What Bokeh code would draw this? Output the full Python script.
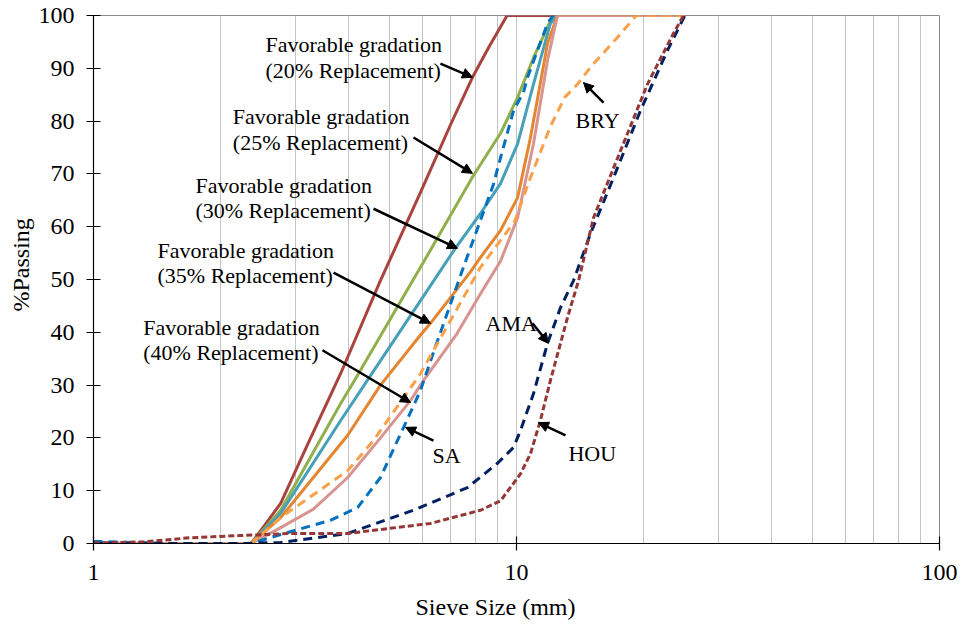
import math
from bokeh.plotting import figure
from bokeh.models import Range1d, FixedTicker, Arrow, NormalHead, Title
from bokeh.embed import file_html
from bokeh.resources import INLINE
from bokeh.core.properties import value

# ---------------- data (sieve size mm, % passing) ----------------
fav20_x = [2.36, 2.77, 3.2, 3.84, 4.75, 5.93, 7.0, 7.87, 8.6, 9.5, 12.5, 19, 25]
fav20_y = [0, 7.6, 18.6, 32.2, 49.5, 66.5, 79.5, 88.3, 94, 100, 100, 100, 100]

fav25_x = [2.36, 2.77, 3.84, 4.12, 5.93, 7.91, 9.17, 10.06, 10.97, 12.03, 12.5, 19, 25]
fav25_y = [0, 6.3, 26.5, 30.6, 52.3, 69.7, 77.7, 84.5, 92, 99, 100, 100, 100]

fav30_x = [2.36, 2.77, 3.84, 4.44, 5.93, 7.18, 8.22, 9.17, 10.06, 10.97, 12.03, 12.5, 19, 25]
fav30_y = [0, 5.7, 23.3, 30.9, 46, 56, 62.5, 68.2, 75.7, 87, 98.5, 100, 100, 100]

fav35_x = [2.36, 2.77, 3.99, 4.77, 5.93, 6.26, 7.79, 8.22, 9.17, 10.06, 10.79, 11.84, 12.5, 19, 25]
fav35_y = [0, 4.9, 20.5, 30, 39.5, 41.7, 51.5, 54.2, 59.3, 65.5, 76.9, 94.7, 100, 100, 100]

fav40_x = [1, 1.42, 2.36, 2.77, 3.31, 3.99, 4.77, 5.62, 6.03, 7.2, 8.22, 9.17, 10.06, 10.97, 11.84, 12.5, 19, 25]
fav40_y = [0.2, 0, 0, 3.0, 6.5, 12.5, 20, 27.1, 30.9, 39.5, 47.3, 53.5, 61.7, 75.7, 91.5, 100, 100, 100]

sa_x = [1, 1.55, 2.36, 2.77, 3.63, 4.21, 4.77, 5.23, 5.41, 5.93, 6.35, 7.49, 8.82, 9.02, 9.84, 10.39, 10.62, 11.84, 12.2]
sa_y = [0.4, 0, 0, 1.7, 4.4, 6.8, 12.5, 19.5, 22, 29, 36, 52.3, 68, 71, 82, 85.5, 88.3, 98.5, 100]

bry_x = [2.36, 2.77, 3.99, 4.59, 5.71, 5.93, 8.22, 9.9, 10.79, 12.03, 13.0, 13.94, 14.96, 17.3, 19.2, 25]
bry_y = [0, 4.9, 13.8, 19.5, 30.3, 32.2, 52.3, 61, 69.3, 79, 84.5, 87, 90.2, 95.8, 100, 100]

ama_x = [1, 2.23, 2.77, 3.99, 5.71, 7.66, 9.02, 9.84, 10.22, 10.97, 11.84, 12.71, 13.64, 14.96, 16.96, 19.64, 22.75, 25]
ama_y = [0, 0, 0.2, 1.9, 6.3, 10.6, 15.2, 18.2, 21.4, 28.4, 37.9, 44.7, 49.8, 58.7, 69.3, 82, 93.4, 100]

hou_x = [1, 1.31, 1.70, 2.23, 2.92, 3.99, 6.26, 8.22, 9.17, 9.84, 10.22, 10.79, 11.39, 12.03, 13.2, 14.02, 15.21, 17.62, 20.4, 23.5, 24.82]
hou_y = [0.1, 0.3, 1.1, 1.5, 1.9, 1.9, 3.8, 6.3, 8.1, 11.4, 13.2, 17, 23.3, 30.9, 42.8, 49.8, 61.7, 74.4, 87, 96.6, 100]

x_ticks = [1, 10, 100]
y_ticks = [0, 10, 20, 30, 40, 50, 60, 70, 80, 90, 100]
grid_ticks = [2, 3, 4, 5, 6, 7, 8, 9, 10, 20, 30, 40, 50, 60, 70, 80, 90, 100]

FONT = "Liberation Serif"

p = figure(width=963, height=628, x_axis_type="log",
           x_range=Range1d(1, 100), y_range=Range1d(0, 100),
           output_backend="svg", toolbar_location=None,
           min_border_left=93, min_border_right=24,
           min_border_top=15, min_border_bottom=85)
p.background_fill_color = "white"
p.border_fill_color = "white"
p.outline_line_color = "#8C8C8C"
p.outline_line_width = 1

p.xgrid.ticker = FixedTicker(ticks=grid_ticks)
p.xgrid.grid_line_color = "#C4C4C4"
p.xgrid.grid_line_width = 1
p.ygrid.grid_line_color = None

p.xaxis.ticker = FixedTicker(ticks=x_ticks)
p.xaxis.major_label_overrides = {1: "1", 10: "10", 100: "100"}
p.yaxis.ticker = FixedTicker(ticks=y_ticks)
for ax in (p.xaxis[0], p.yaxis[0]):
    ax.axis_line_color = "black"
    ax.axis_line_width = 1.2
    ax.major_tick_line_color = "black"
    ax.major_tick_line_width = 1.2
    ax.major_tick_in = 7
    ax.major_tick_out = 7
    ax.minor_tick_line_color = None
    ax.major_label_text_font = FONT
    ax.major_label_text_font_size = "24px"
    ax.major_label_text_color = "black"
p.xaxis.major_label_standoff = 14
p.yaxis.major_label_standoff = 12

# series
solid = [
    (fav20_x, fav20_y, "#A9433F"),
    (fav25_x, fav25_y, "#8FB04C"),
    (fav30_x, fav30_y, "#46A0B8"),
    (fav35_x, fav35_y, "#E5852F"),
    (fav40_x, fav40_y, "#D8948F"),
]
dashed = [
    (sa_x, sa_y, "#0070C0", "9 6"),
    (bry_x, bry_y, "#F9A04A", "9 6"),
    (ama_x, ama_y, "#002060", "9 6"),
    (hou_x, hou_y, "#953735", "6 3"),
]
for xs, ys, c in solid:
    p.line(xs, ys, line_color=c, line_width=3, line_join="round")
for xs, ys, c, d in dashed:
    p.line(xs, ys, line_color=c, line_width=3, line_dash=d, line_join="round")

# annotations
ann_text = ["Favorable gradation", "(20% Replacement)",
            "Favorable gradation", "(25% Replacement)",
            "Favorable gradation", "(30% Replacement)",
            "Favorable gradation", "(35% Replacement)",
            "Favorable gradation", "(40% Replacement)",
            "SA", "AMA", "HOU", "BRY"]
ann_x = [2.551, 2.551, 2.135, 2.135, 1.742, 1.742, 1.417, 1.417, 1.311, 1.311,
         6.33, 8.447, 13.27, 13.79]
ann_y = [94.45, 89.6, 80.9, 76.0, 67.8, 63.1, 55.5, 50.8, 40.9, 36.2,
         16.7, 41.6, 17.0, 80.1]
p.text(ann_x, ann_y, text=ann_text, text_font=value(FONT), text_font_size="22px",
       text_color="black", text_align="left", text_baseline="alphabetic")

arrows = [
    (6.61, 90.9, 7.87, 88.3),
    (5.708, 76.9, 7.87, 70.1),
    (4.592, 63.4, 7.255, 55.9),
    (3.693, 51.3, 6.262, 41.7),
    (3.478, 36.6, 5.616, 26.7),
    (6.365, 19.5, 5.466, 22.0),
    (10.91, 41.7, 11.9, 37.9),
    (13.06, 20.5, 11.27, 22.9),
    (16.06, 83.5, 14.4, 87.3),
]
for xs0, ys0, xe, ye in arrows:
    p.add_layout(Arrow(end=NormalHead(size=10, fill_color="black", line_color="black", line_width=1),
                       x_start=xs0, y_start=ys0, x_end=xe, y_end=ye,
                       line_color="black", line_width=2.5))

p.add_layout(Title(text="Sieve Size (mm)", align="left", offset=322, standoff=18,
                   text_font=FONT, text_font_size="24px", text_font_style="normal",
                   text_color="black"), "below")
p.add_layout(Title(text="%Passing", align="left", offset=232, standoff=4,
                   text_font=FONT, text_font_size="24px", text_font_style="normal",
                   text_color="black"), "left")

open("out.html", "w").write(file_html(p, INLINE))
